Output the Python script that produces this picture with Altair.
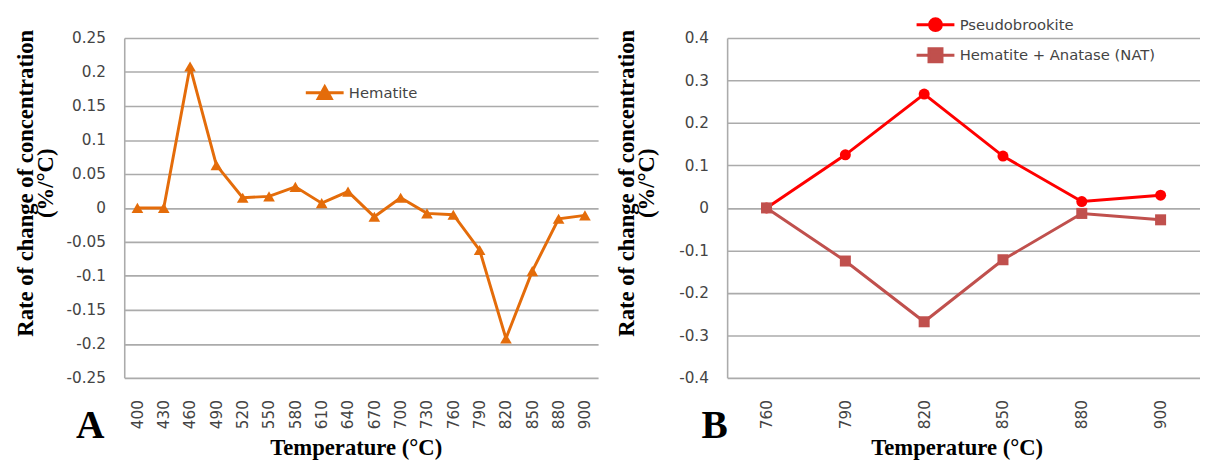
import altair as alt
import pandas as pd

# ---------------- data ----------------
temps_a = ["400", "430", "460", "490", "520", "550", "580", "610", "640",
           "670", "700", "730", "760", "790", "820", "850", "880", "900"]
hematite = [0.0, 0.0, 0.208, 0.063, 0.015, 0.017, 0.031, 0.007, 0.024,
            -0.013, 0.015, -0.008, -0.010, -0.062, -0.192, -0.093, -0.016, -0.011]

temps_b = ["760", "790", "820", "850", "880", "900"]
pseudobrookite = [0.0, 0.125, 0.268, 0.122, 0.015, 0.030]
nat = [0.0, -0.125, -0.268, -0.122, -0.013, -0.028]

series_a = ["Hematite"]
series_b = ["Pseudobrookite", "Hematite + Anatase (NAT)"]
colors_a = ["#E46C0A"]
colors_b = ["#FF0000", "#C0504D"]

y_ticks_a = [-0.25, -0.2, -0.15, -0.1, -0.05, 0, 0.05, 0.1, 0.15, 0.2, 0.25]
y_ticks_b = [-0.4, -0.3, -0.2, -0.1, 0, 0.1, 0.2, 0.3, 0.4]

y_title = ["Rate of change of concentration", "(%/°C)"]
x_title = "Temperature (°C)"
panel_labels = ["A", "B"]

df_a = pd.DataFrame({"Temperature": temps_a, "Rate": hematite,
                     "Series": series_a * len(temps_a)})
df_b = pd.DataFrame({
    "Temperature": temps_b + temps_b,
    "Rate": pseudobrookite + nat,
    "Series": [series_b[0]] * len(temps_b) + [series_b[1]] * len(temps_b),
})

# ---------------- style ----------------
SERIF = "Liberation Serif"
SANS = "DejaVu Sans"
GRID = "#ababab"
LABEL = "#444444"

LINE_PART = "M-1.6,0H1.6"
TRI = LINE_PART + "M0,-0.5L0.55,0.5L-0.55,0.5Z"
CIRC = LINE_PART + "M0.5,0A0.5,0.5 0 1,1 -0.5,0A0.5,0.5 0 1,1 0.5,0Z"
SQR = LINE_PART + "M-0.55,-0.55H0.55V0.55H-0.55Z"

label_expr = "datum.value < 0 ? '-' + format(-datum.value, '~g') : format(datum.value, '~g')"


def y_axis(values, tx):
    return alt.Axis(
        values=values, labelExpr=label_expr, grid=True, gridColor=GRID, gridWidth=1.6,
        domain=True, domainColor=GRID, domainWidth=1.6, ticks=False, tickSize=0,
        labelPadding=19, labelFont=SANS, labelFontSize=15.5, labelColor=LABEL,
        title=y_title, titleFont=SERIF, titleFontSize=23, titleFontWeight="bold",
        titleColor="black", titleAngle=270, titleAlign="center",
        titleBaseline="alphabetic", titleLineHeight=20, titleX=tx, titleY=147,
    )


def x_axis(tx):
    return alt.Axis(
        grid=False, domain=False, ticks=False, tickSize=0, labelAngle=270,
        labelAlign="right", labelBaseline="middle", labelPadding=22,
        labelFont=SANS, labelFontSize=15.5, labelColor=LABEL,
        title=x_title, titleFont=SERIF, titleFontSize=23, titleFontWeight="bold",
        titleColor="black", titleAlign="center", titleBaseline="alphabetic",
        titleX=tx, titleY=78,
    )


def legend_none(lx, ly, stype):
    return alt.Legend(
        title=None, orient="none", legendX=lx, legendY=ly, padding=0,
        symbolSize=576, symbolStrokeWidth=3, symbolOpacity=1, labelOffset=11,
        labelFont=SANS, labelFontSize=15, labelColor=LABEL, labelLimit=400,
        symbolType=stype,
    )


def panel_title(text, dx):
    return alt.TitleParams(text=text, orient="bottom", anchor="start", frame="group",
                           font=SERIF, fontSize=40, fontWeight="bold", color="black",
                           baseline="alphabetic", offset=0, dx=dx, dy=-22)


def series_layer(df, series, color, x, y, shape, size, legend):
    c = alt.Color("Series:N", scale=alt.Scale(domain=[series], range=[color]), legend=legend)
    base = alt.Chart(df).transform_filter(alt.datum.Series == series).encode(x=x, y=y, color=c)
    return alt.layer(
        base.mark_line(strokeWidth=3),
        base.mark_point(shape=shape, filled=True, size=size, opacity=1),
    )


# ---------------- panel A ----------------
x_a = alt.X("Temperature:N", sort=temps_a, scale=alt.Scale(paddingOuter=0.5), axis=x_axis(235))
y_a = alt.Y("Rate:Q", scale=alt.Scale(domain=[-0.25, 0.25], nice=False, zero=False),
            axis=y_axis(y_ticks_a, -93))
panel_a = series_layer(df_a, series_a[0], colors_a[0], x_a, y_a, "triangle-up", 140,
                       legend_none(190, 42, TRI)
                       ).properties(width=481, height=345, title=panel_title(panel_labels[0], -49))

# ---------------- panel B ----------------
x_b = alt.X("Temperature:N", sort=temps_b, scale=alt.Scale(paddingOuter=0.5), axis=x_axis(233))
y_b = alt.Y("Rate:Q", scale=alt.Scale(domain=[-0.4, 0.4], nice=False, zero=False),
            axis=y_axis(y_ticks_b, -95))
layer_p = series_layer(df_b, series_b[0], colors_b[0], x_b, y_b, "circle", 125,
                       legend_none(198, -27, CIRC))
layer_n = series_layer(df_b, series_b[1], colors_b[1], x_b, y_b, "square", 125,
                       legend_none(198, 4, SQR))
panel_b = alt.layer(layer_p, layer_n).resolve_scale(color="independent").resolve_legend(
    color="independent"
).properties(width=480, height=345, title=panel_title(panel_labels[1], -26))

chart = alt.hconcat(panel_a, panel_b, spacing=18).resolve_scale(
    color="independent"
).resolve_legend(
    color="independent"
).properties(
    padding={"left": 7, "top": 0, "right": 0, "bottom": 0},
    background="white",
).configure_view(stroke=None)

chart.save("out.html", embed_options={"renderer": "svg", "actions": False})
